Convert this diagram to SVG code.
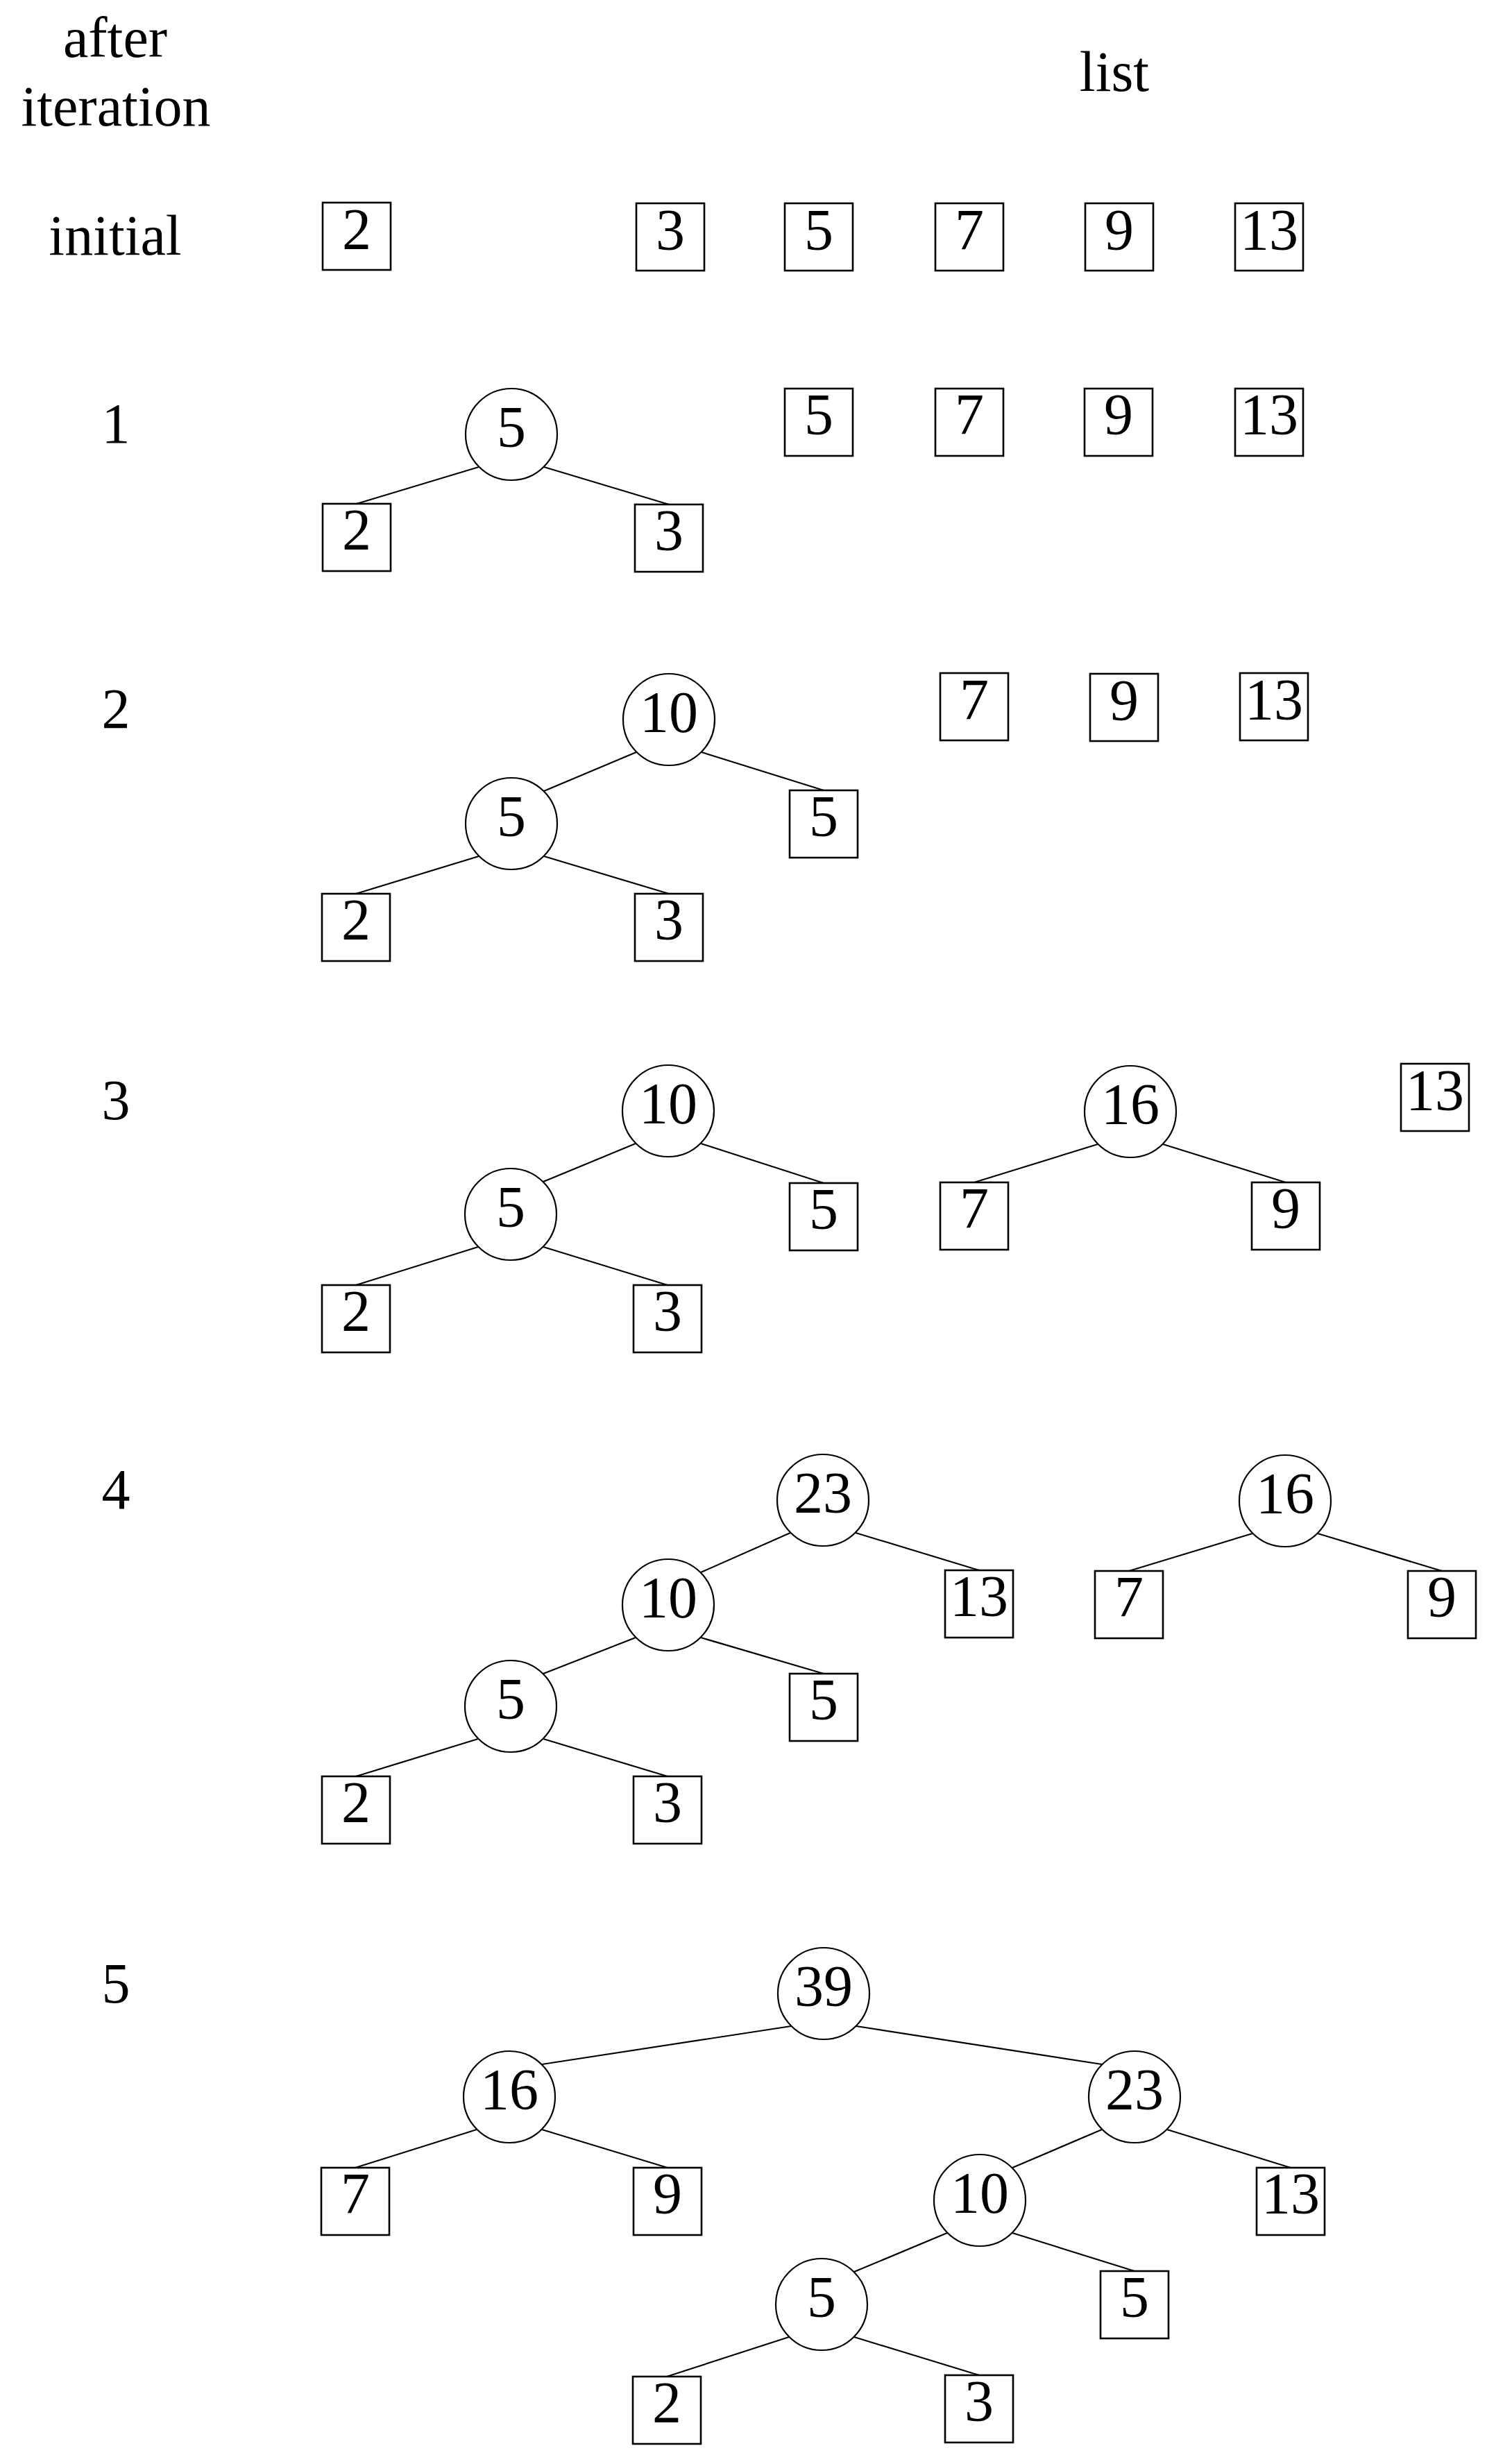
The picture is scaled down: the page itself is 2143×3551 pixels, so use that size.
<svg xmlns="http://www.w3.org/2000/svg" width="2143" height="3551" viewBox="0 0 2143 3551">
<style>
.bg{fill:#fff}
.box{fill:#fff;stroke:#000;stroke-width:2.6}
.circ{fill:#fff;stroke:#000;stroke-width:2.2}
.num{font-family:"Liberation Serif","Times New Roman",serif;font-size:84px;text-anchor:middle;fill:#000}
.lbl{font-family:"Liberation Serif","Times New Roman",serif;font-size:82px;text-anchor:middle;fill:#000}
.edges line{stroke:#000;stroke-width:2.2}
</style>
<rect class="bg" x="0" y="0" width="2143" height="3551"/>

<g id="headers">
<text class="lbl" x="166" y="82">after</text>
<text class="lbl" x="167" y="181">iteration</text>
<text class="lbl" x="1606" y="131">list</text>
<text class="lbl" x="166" y="367">initial</text>
<text class="lbl" x="167" y="638">1</text>
<text class="lbl" x="167" y="1049">2</text>
<text class="lbl" x="167" y="1613">3</text>
<text class="lbl" x="167" y="2174">4</text>
<text class="lbl" x="167" y="2886">5</text>
</g>

<g class="edges" id="connectors">
<line x1="690" y1="673" x2="514" y2="726"/>
<line x1="784" y1="673" x2="964" y2="727"/>
<line x1="917" y1="1084" x2="784" y2="1140"/>
<line x1="1011" y1="1084" x2="1187" y2="1139"/>
<line x1="690" y1="1234" x2="513" y2="1288"/>
<line x1="784" y1="1234" x2="964" y2="1288"/>
<line x1="916" y1="1648" x2="783" y2="1703"/>
<line x1="1010" y1="1648" x2="1187" y2="1705"/>
<line x1="689" y1="1797" x2="513" y2="1852"/>
<line x1="783" y1="1797" x2="962" y2="1852"/>
<line x1="1582" y1="1649" x2="1404" y2="1704"/>
<line x1="1676" y1="1649" x2="1853" y2="1704"/>
<line x1="1139" y1="2209" x2="1010" y2="2266"/>
<line x1="1233" y1="2209" x2="1411" y2="2263"/>
<line x1="916" y1="2360" x2="783" y2="2412"/>
<line x1="1010" y1="2360" x2="1187" y2="2412"/>
<line x1="689" y1="2506" x2="513" y2="2560"/>
<line x1="783" y1="2506" x2="962" y2="2560"/>
<line x1="1805" y1="2210" x2="1627" y2="2264"/>
<line x1="1899" y1="2210" x2="2078" y2="2264"/>
<line x1="1140" y1="2920" x2="781" y2="2975"/>
<line x1="1234" y1="2920" x2="1588" y2="2975"/>
<line x1="687" y1="3069" x2="512" y2="3124"/>
<line x1="781" y1="3069" x2="962" y2="3124"/>
<line x1="1588" y1="3069" x2="1459" y2="3124"/>
<line x1="1682" y1="3069" x2="1860" y2="3124"/>
<line x1="1365" y1="3218" x2="1231" y2="3274"/>
<line x1="1459" y1="3218" x2="1635" y2="3273"/>
<line x1="1137" y1="3368" x2="961" y2="3425"/>
<line x1="1231" y1="3368" x2="1411" y2="3423"/>
</g>

<g id="r0-b2"><rect class="box" x="465" y="292" width="98" height="97"/><text class="num" x="514" y="359">2</text></g>
<g id="r0-b3"><rect class="box" x="917" y="293" width="98" height="97"/><text class="num" x="966" y="360">3</text></g>
<g id="r0-b5"><rect class="box" x="1131" y="293" width="98" height="97"/><text class="num" x="1180" y="360">5</text></g>
<g id="r0-b7"><rect class="box" x="1348" y="293" width="98" height="97"/><text class="num" x="1397" y="360">7</text></g>
<g id="r0-b9"><rect class="box" x="1564" y="293" width="98" height="97"/><text class="num" x="1613" y="360">9</text></g>
<g id="r0-b13"><rect class="box" x="1780" y="293" width="98" height="97"/><text class="num" x="1829" y="360">13</text></g>

<g id="r1-c5"><circle class="circ" cx="737" cy="626" r="66"/><text class="num" x="737" y="644">5</text></g>
<g id="r1-b2"><rect class="box" x="465" y="726" width="98" height="97"/><text class="num" x="514" y="792">2</text></g>
<g id="r1-b3"><rect class="box" x="915" y="727" width="98" height="97"/><text class="num" x="964" y="793">3</text></g>
<g id="r1-b5"><rect class="box" x="1131" y="560" width="98" height="97"/><text class="num" x="1180" y="626">5</text></g>
<g id="r1-b7"><rect class="box" x="1348" y="560" width="98" height="97"/><text class="num" x="1397" y="626">7</text></g>
<g id="r1-b9"><rect class="box" x="1563" y="560" width="98" height="97"/><text class="num" x="1612" y="626">9</text></g>
<g id="r1-b13"><rect class="box" x="1780" y="560" width="98" height="97"/><text class="num" x="1829" y="626">13</text></g>

<g id="r2-c10"><circle class="circ" cx="964" cy="1037" r="66"/><text class="num" x="964" y="1055">10</text></g>
<g id="r2-c5"><circle class="circ" cx="737" cy="1187" r="66"/><text class="num" x="737" y="1205">5</text></g>
<g id="r2-b5"><rect class="box" x="1138" y="1139" width="98" height="97"/><text class="num" x="1187" y="1205">5</text></g>
<g id="r2-b2"><rect class="box" x="464" y="1288" width="98" height="97"/><text class="num" x="513" y="1354">2</text></g>
<g id="r2-b3"><rect class="box" x="915" y="1288" width="98" height="97"/><text class="num" x="964" y="1354">3</text></g>
<g id="r2-b7"><rect class="box" x="1355" y="970" width="98" height="97"/><text class="num" x="1404" y="1037">7</text></g>
<g id="r2-b9"><rect class="box" x="1571" y="971" width="98" height="97"/><text class="num" x="1620" y="1038">9</text></g>
<g id="r2-b13"><rect class="box" x="1787" y="970" width="98" height="97"/><text class="num" x="1836" y="1037">13</text></g>

<g id="r3-c10"><circle class="circ" cx="963" cy="1601" r="66"/><text class="num" x="963" y="1619">10</text></g>
<g id="r3-c5"><circle class="circ" cx="736" cy="1750" r="66"/><text class="num" x="736" y="1768">5</text></g>
<g id="r3-b5"><rect class="box" x="1138" y="1705" width="98" height="97"/><text class="num" x="1187" y="1771">5</text></g>
<g id="r3-b2"><rect class="box" x="464" y="1852" width="98" height="97"/><text class="num" x="513" y="1918">2</text></g>
<g id="r3-b3"><rect class="box" x="913" y="1852" width="98" height="97"/><text class="num" x="962" y="1918">3</text></g>
<g id="r3-c16"><circle class="circ" cx="1629" cy="1602" r="66"/><text class="num" x="1629" y="1620">16</text></g>
<g id="r3-b7"><rect class="box" x="1355" y="1704" width="98" height="97"/><text class="num" x="1404" y="1770">7</text></g>
<g id="r3-b9"><rect class="box" x="1804" y="1704" width="98" height="97"/><text class="num" x="1853" y="1770">9</text></g>
<g id="r3-b13"><rect class="box" x="2019" y="1533" width="98" height="97"/><text class="num" x="2068" y="1600">13</text></g>

<g id="r4-c23"><circle class="circ" cx="1186" cy="2162" r="66"/><text class="num" x="1186" y="2180">23</text></g>
<g id="r4-c10"><circle class="circ" cx="963" cy="2313" r="66"/><text class="num" x="963" y="2331">10</text></g>
<g id="r4-b13"><rect class="box" x="1362" y="2263" width="98" height="97"/><text class="num" x="1411" y="2329">13</text></g>
<g id="r4-c5"><circle class="circ" cx="736" cy="2459" r="66"/><text class="num" x="736" y="2477">5</text></g>
<g id="r4-b5"><rect class="box" x="1138" y="2412" width="98" height="97"/><text class="num" x="1187" y="2478">5</text></g>
<g id="r4-b2"><rect class="box" x="464" y="2560" width="98" height="97"/><text class="num" x="513" y="2626">2</text></g>
<g id="r4-b3"><rect class="box" x="913" y="2560" width="98" height="97"/><text class="num" x="962" y="2626">3</text></g>
<g id="r4-c16"><circle class="circ" cx="1852" cy="2163" r="66"/><text class="num" x="1852" y="2181">16</text></g>
<g id="r4-b7"><rect class="box" x="1578" y="2264" width="98" height="97"/><text class="num" x="1627" y="2330">7</text></g>
<g id="r4-b9"><rect class="box" x="2029" y="2264" width="98" height="97"/><text class="num" x="2078" y="2330">9</text></g>

<g id="r5-c39"><circle class="circ" cx="1187" cy="2873" r="66"/><text class="num" x="1187" y="2891">39</text></g>
<g id="r5-c16"><circle class="circ" cx="734" cy="3022" r="66"/><text class="num" x="734" y="3040">16</text></g>
<g id="r5-c23"><circle class="circ" cx="1635" cy="3022" r="66"/><text class="num" x="1635" y="3040">23</text></g>
<g id="r5-b7"><rect class="box" x="463" y="3124" width="98" height="97"/><text class="num" x="512" y="3190">7</text></g>
<g id="r5-b9"><rect class="box" x="913" y="3124" width="98" height="97"/><text class="num" x="962" y="3190">9</text></g>
<g id="r5-c10"><circle class="circ" cx="1412" cy="3171" r="66"/><text class="num" x="1412" y="3189">10</text></g>
<g id="r5-b13"><rect class="box" x="1811" y="3124" width="98" height="97"/><text class="num" x="1860" y="3190">13</text></g>
<g id="r5-c5"><circle class="circ" cx="1184" cy="3321" r="66"/><text class="num" x="1184" y="3339">5</text></g>
<g id="r5-b5"><rect class="box" x="1586" y="3273" width="98" height="97"/><text class="num" x="1635" y="3339">5</text></g>
<g id="r5-b2"><rect class="box" x="912" y="3425" width="98" height="97"/><text class="num" x="961" y="3491">2</text></g>
<g id="r5-b3"><rect class="box" x="1362" y="3423" width="98" height="97"/><text class="num" x="1411" y="3489">3</text></g>
</svg>
